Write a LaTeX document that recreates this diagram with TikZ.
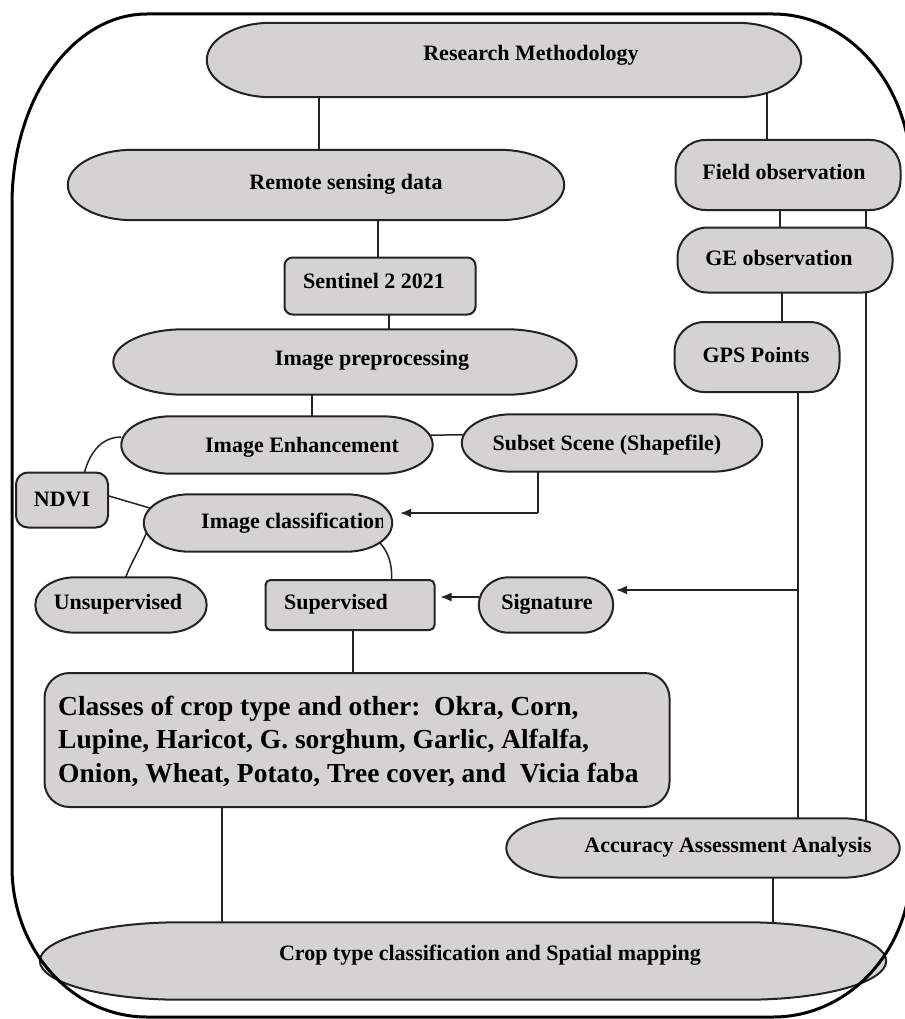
\documentclass[tikz,border=0pt]{standalone}
\usepackage{fontspec}
\setmainfont{Liberation Serif}
\usetikzlibrary{calc,arrows.meta}
\definecolor{shfill}{RGB}{212,210,211}
\definecolor{edgec}{RGB}{35,35,35}
\pgfdeclarelayer{conn}
\pgfdeclarelayer{shp}
\pgfsetlayers{conn,shp,main}
\newcommand{\stad}[2]{%
  \path[shpstyle] let \p1=(#1.north east), \p2=(#1.south west), \n1={(\y1-\y2)/2} in
  ([xshift=#2pt]#1.north west) -- ([xshift=-#2pt]#1.north east)
  arc[start angle=90,end angle=-90,x radius=#2pt,y radius=\n1]
  -- ([xshift=#2pt]#1.south west)
  arc[start angle=270,end angle=90,x radius=#2pt,y radius=\n1] -- cycle;}
\tikzset{
  shpstyle/.style={draw=edgec,fill=shfill,line width=2pt},
  anchorbox/.style={inner sep=0,draw=none,minimum width=#1},
  rbox/.style={draw=edgec,fill=shfill,line width=2pt,inner sep=0},
  txt/.style={inner sep=0,font=\bfseries\fontsize{22}{26}\selectfont},
  conn/.style={draw=edgec,line width=1.5pt},
  arr/.style={draw=edgec,line width=1.5pt,-{Latex[length=11pt,width=9pt]}},
  frame/.style={draw=black,line width=3pt}
}
\begin{document}
\begin{tikzpicture}[x=1pt,y=1pt]
\useasboundingbox (0,0) rectangle (904,-1019);
% ---- stadium anchor nodes
\node[anchorbox=594,minimum height=74] (RM) at (504,-60) {};
\node[anchorbox=496,minimum height=70] (RS) at (316,-185) {};
\node[anchorbox=463,minimum height=65] (IP) at (345,-362) {};
\node[anchorbox=311,minimum height=57] (IE) at (277,-445) {};
\node[anchorbox=300,minimum height=57] (SS) at (612,-443) {};
\node[anchorbox=248,minimum height=57] (IC) at (268,-523) {};
\node[anchorbox=171,minimum height=55] (UN) at (121,-605) {};
\node[anchorbox=134,minimum height=55] (SIG) at (546,-605) {};
\node[anchorbox=393,minimum height=59] (ACC) at (703,-848) {};
\node[anchorbox=846,minimum height=77] (CROP) at (463,-961) {};
% ---- rounded boxes
\node[rbox,rounded corners=30pt,minimum width=225,minimum height=70] (FO) at (788,-175) {};
\node[rbox,rounded corners=30pt,minimum width=215,minimum height=65] (GE) at (785,-260) {};
\node[rbox,rounded corners=30pt,minimum width=165,minimum height=70] (GPS) at (757,-357) {};
\node[rbox,rounded corners=8pt,minimum width=191,minimum height=57] (SEN) at (380,-286) {};
\node[rbox,rounded corners=12pt,minimum width=92,minimum height=55] (NDVI) at (62,-500) {};
\node[rbox,rounded corners=5pt,minimum width=169,minimum height=50] (SUP) at (350,-605) {};
\node[rbox,rounded corners=25pt,minimum width=625,minimum height=134] (CL) at (357,-740) {};
% ---- stadium shapes
\begin{pgfonlayer}{shp}
\stad{RM}{64}
\stad{RS}{65}
\stad{IP}{70}
\stad{IE}{50}
\stad{SS}{50}
\stad{IC}{46}
\stad{UN}{40}
\stad{SIG}{30}
\stad{ACC}{58}
\stad{CROP}{140}
\end{pgfonlayer}
% ---- connectors (behind shapes)
\begin{pgfonlayer}{conn}
\path[conn] (RM.center -| 319,0) -- (RS.center -| 319,0);
\path[conn] (RM.center -| 767,0) -- (FO.center -| 767,0);
\path[conn] (FO.center -| 780,0) -- (GE.center -| 780,0);
\path[conn] (FO.center -| 866,0) -- (ACC.center -| 866,0);
\path[conn] (GE.center -| 782,0) -- (GPS.center -| 782,0);
\path[conn] (GPS.center -| 798,0) -- (ACC.center -| 798,0);
\path[conn] (RS.center -| 378,0) -- (SEN.center -| 378,0);
\path[conn] (SEN.center -| 389,0) -- (IP.center -| 389,0);
\path[conn] (IP.center -| 312,0) -- (IE.center -| 312,0);
\path[conn] ([yshift=8]IE.center) -- ([yshift=10]SS.center);
\path[conn] ([yshift=8]IE.west) to[out=180,in=90] (NDVI.center -| 81,0);
\path[conn] ([yshift=4]NDVI.east) -- ([xshift=6,yshift=15]IC.west);
\path[conn] ([xshift=4,yshift=-6]IC.west) to[out=250,in=90] (UN.center -| 121,0);
\path[conn] ([xshift=-12,yshift=-20]IC.east) to[out=-50,in=90] (SUP.center -| 391,0);
\path[conn] (SUP.center -| 353,0) -- (CL.center -| 353,0);
\path[conn] (CL.center -| 222,0) -- (CROP.center -| 222,0);
\path[conn] (ACC.center -| 773,0) -- (CROP.center -| 773,0);
\end{pgfonlayer}
% ---- arrows
\coordinate (g1) at (798,-590);
\coordinate (s1) at (538,-513);
\draw[conn] (SS.south -| s1) -- (s1);
\draw[arr] (s1) -- ([xshift=8,yshift=10]IC.east);
\draw[arr] ([yshift=8]SIG.west) -- ([xshift=5,yshift=8]SUP.east);
\draw[arr] (g1) -- ([xshift=3,yshift=15]SIG.east);
% ---- texts
\node[txt] (RMt) at (531,-55) {Research Methodology};
\node[txt] (RSt) at (346,-184) {Remote sensing data};
\node[txt] (FOt) at (784,-172) {Field observation};
\node[txt] (GEt) at (779,-258) {GE observation};
\node[txt] (GPSt) at (756,-355) {GPS Points};
\node[txt] (SENt) at (374,-281) {Sentinel 2 2021};
\node[txt] (IPt) at (372,-360) {Image preprocessing};
\node[txt] (IEt) at (302,-447) {Image Enhancement};
\node[txt] (SSt) at (607,-445) {Subset Scene (Shapefile)};
\node[txt] (NDVIt) at (62,-499) {NDVI};
\begin{scope}
\clip (144,-480) rectangle (382,-570);
\node[txt,anchor=west] (ICt) at (201,-523) {Image classification};
\end{scope}
\node[txt] (UNt) at (118,-604) {Unsupervised};
\node[txt] (SUPt) at (336,-604) {Supervised};
\node[txt] (SIGt) at (547,-604) {Signature};
\node[inner sep=0,anchor=west,align=left,font=\bfseries\fontsize{27.5}{33.5}\selectfont] (CLt) at (58,-741)
  {Classes of crop type and other:\ \ Okra, Corn,\\Lupine, Haricot, G. sorghum, Garlic, Alfalfa,\\Onion, Wheat, Potato, Tree cover, and\ \ Vicia faba};
\node[txt] (ACCt) at (728,-847) {Accuracy Assessment Analysis};
\node[txt] (CROPt) at (490,-955) {Crop type classification and Spatial mapping};
% ---- outer frame
\draw[frame] (12,-204) -- (12,-867)
  arc[start angle=180,end angle=270,x radius=135,y radius=150] -- (773,-1017)
  arc[start angle=270,end angle=360,x radius=138,y radius=150] -- (911,-174)
  arc[start angle=0,end angle=90,x radius=138,y radius=160] -- (147,-14)
  arc[start angle=90,end angle=180,x radius=135,y radius=190] -- cycle;
\end{tikzpicture}
\end{document}
